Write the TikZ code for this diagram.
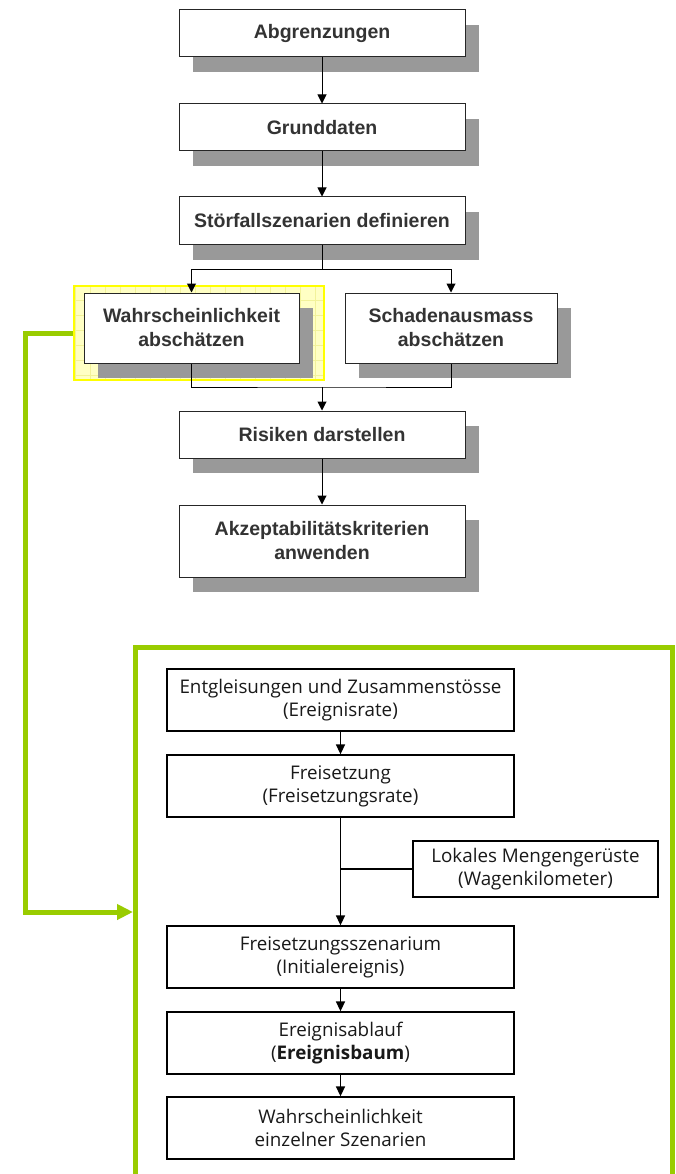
\documentclass[tikz,border=0pt]{standalone}
\usepackage{fontspec}
\setmainfont{Liberation Sans}
\newfontfamily\innerfont{Open Sans}
\usetikzlibrary{arrows.meta,shadows,calc}
\definecolor{limegreen}{HTML}{99CC00}
\definecolor{shadowgray}{HTML}{999999}
\definecolor{hlfill}{HTML}{FFFFC4}
\definecolor{hlgrid}{HTML}{F2F29A}
\definecolor{hlborder}{HTML}{FFFF00}
\definecolor{toptext}{HTML}{333333}
\begin{document}
\begin{tikzpicture}[x=1pt,y=-1pt,
  topbox/.style={draw=black!85, line width=1pt, fill=white, text=toptext,
    font=\fontsize{19.5}{24}\selectfont\bfseries, align=center, inner sep=0pt,
    minimum width=286pt, minimum height=47pt,
    drop shadow={shadow xshift=14pt, shadow yshift=-15pt, fill=shadowgray, opacity=1}},
  innerbox/.style={draw=black, line width=1.3pt, fill=white, text=black!90,
    font=\innerfont\fontsize{18.8}{23}\selectfont, align=center, inner sep=0pt,
    minimum width=347pt, minimum height=62pt},
  arr/.style={draw=black, line width=1pt, -{Triangle[length=9pt,width=9pt]}},
  link/.style={draw=black, line width=1pt},
  iarr/.style={draw=black, line width=1.5pt, -{Triangle[length=10pt,width=9pt]}},
  ilink/.style={draw=black, line width=1.5pt},
  greenline/.style={draw=limegreen, line width=5pt},
  greenarr/.style={greenline, -{Triangle[length=16pt,width=15pt]}},
  hlbox/.style={draw=hlborder, line width=2pt, fill=hlfill, inner sep=0pt}
]
\useasboundingbox (0,0) rectangle (675,1174);

% highlighted step behind the probability box
\node[hlbox, minimum width=250pt, minimum height=94pt] (hl) at (199,333) {};
\begin{scope}
  \clip (75,287) rectangle (323,379);
  \draw[hlgrid, line width=0.6pt, step=15pt] (74,286) grid (324,380);
\end{scope}
\draw[hlborder, line width=2pt] (74,286) rectangle (324,380);

% overview flow
\node[topbox] (abg) at (322,33.5) {Abgrenzungen};
\node[topbox] (grund) at (322,127.5) {Grunddaten};
\node[topbox, minimum height=48pt] (stoer) at (322,221) {Störfallszenarien definieren};
\node[topbox, minimum width=215pt, minimum height=70pt] (wahr) at (191.5,328) {Wahrscheinlichkeit\\abschätzen};
\node[topbox, minimum width=212pt, minimum height=70pt] (schad) at (451,328) {Schadenausmass\\abschätzen};
\node[topbox] (risk) at (322,434.5) {Risiken darstellen};
\node[topbox, minimum height=72pt] (akz) at (322,541) {Akzeptabilitätskriterien\\anwenden};

\coordinate (split) at (322,269);
\coordinate (merge) at (322,387);
\draw[arr] (abg) -- (grund);
\draw[arr] (grund) -- (stoer);
\draw[link] (stoer) -- (split);
\draw[arr] (split) -| (wahr);
\draw[arr] (split) -| (schad);
\draw[link] (wahr) |- (merge) -| (schad);
\draw[arr] (merge) -- (risk);
\draw[arr] (risk) -- (akz);

% detail frame
\draw[greenline] (135,1190) -- (135,647.5) -- (672,647.5) -- (672,1190);
\coordinate (frameentry) at (133,912);
\draw[greenarr] (hl.west) -- ++(-47.5,0) |- (frameentry);

% detail flow
\node[innerbox] (ent) at (340.5,700) {Entgleisungen und Zusammenstösse\\(Ereignisrate)};
\node[innerbox] (frei) at (340.5,786) {Freisetzung\\(Freisetzungsrate)};
\node[innerbox, minimum width=245pt, minimum height=56pt] (lok) at (535.5,869) {Lokales Mengengerüste\\(Wagenkilometer)};
\node[innerbox] (fsz) at (340.5,957) {Freisetzungsszenarium\\(Initialereignis)};
\node[innerbox] (erg) at (340.5,1043) {Ereignisablauf\\(\textbf{Ereignisbaum})};
\node[innerbox] (wes) at (340.5,1128) {Wahrscheinlichkeit\\einzelner Szenarien};

\draw[iarr] (ent) -- (frei);
\draw[iarr] (frei) -- (fsz);
\draw[ilink] (lok.west) -- (lok.west -| frei);
\draw[iarr] (fsz) -- (erg);
\draw[iarr] (erg) -- (wes);
\end{tikzpicture}
\end{document}
